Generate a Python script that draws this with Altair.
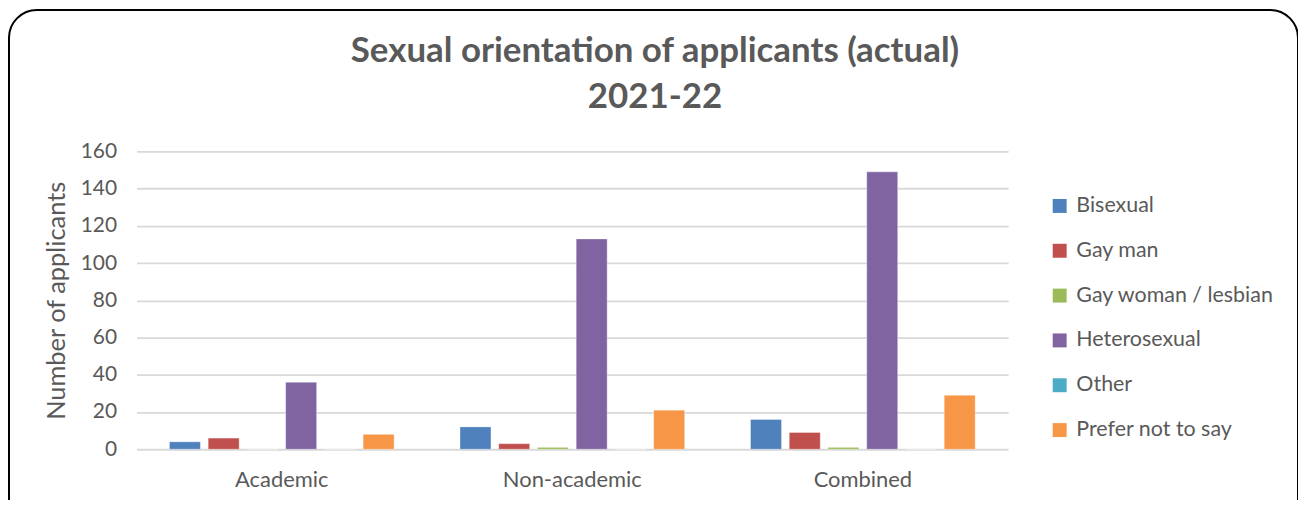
import altair as alt
import pandas as pd

categories = ["Academic", "Non-academic", "Combined"]
orientations = ["Bisexual", "Gay man", "Gay woman / lesbian", "Heterosexual", "Other", "Prefer not to say"]
academic = [4, 6, 0, 36, 0, 8]
non_academic = [12, 3, 1, 113, 0, 21]
combined = [16, 9, 1, 149, 0, 29]
colors = ["#4F81BD", "#C0504D", "#9BBB59", "#8064A2", "#4BACC6", "#F79646"]

rows = []
for cat, vals in zip(categories, [academic, non_academic, combined]):
    for o, v in zip(orientations, vals):
        rows.append({"Category": cat, "Orientation": o, "Count": v})
df = pd.DataFrame(rows)

FONT = "Lato"
GREY = "#595959"

bars = alt.Chart(df).mark_bar(stroke="white", strokeWidth=0.6, strokeOpacity=0.6).encode(
    x=alt.X("Category:N", sort=categories, title=None,
            scale=alt.Scale(paddingInner=0, paddingOuter=0),
            axis=alt.Axis(labelAngle=0, ticks=False, domain=False, labelPadding=20,
                          labelFontSize=22, labelColor=GREY, labelFont=FONT)),
    xOffset=alt.XOffset("Orientation:N", sort=orientations,
                        scale=alt.Scale(paddingInner=0.2, paddingOuter=0.85)),
    y=alt.Y("Count:Q", title="Number of applicants",
            scale=alt.Scale(domain=[0, 160], nice=False),
            axis=alt.Axis(values=list(range(0, 161, 20)), ticks=False, domain=False,
                          gridColor="#D9D9D9", gridWidth=1.8, labelPadding=20,
                          labelFontSize=21, labelColor=GREY, labelFont=FONT,
                          titleFontSize=25.5, titleColor=GREY, titleFont=FONT,
                          titleFontWeight="normal", titlePadding=11)),
    color=alt.Color("Orientation:N", sort=orientations,
                    scale=alt.Scale(domain=orientations, range=colors),
                    legend=alt.Legend(title=None, orient="none", legendX=916, legendY=44,
                                      symbolType="square", symbolSize=196, symbolStrokeWidth=0,
                                      labelFontSize=21.5, labelColor=GREY, labelFont=FONT,
                                      labelLimit=400, rowPadding=22, labelOffset=6)),
)

border = alt.Chart(pd.DataFrame({"a": [0]})).mark_rect(
    fill=None, stroke="black", strokeWidth=2, cornerRadius=28, clip=False
).encode(x=alt.value(-128), x2=alt.value(1166), y=alt.value(-142), y2=alt.value(380))

chart = alt.layer(border, bars).properties(
    width=875, height=299,
    autosize=alt.AutoSizeParams(type="none"),
    padding={"left": 129, "top": 143, "right": 291, "bottom": 50},
    title=alt.TitleParams(
        text=["Sexual orientation of applicants (actual)", "2021-22"],
        fontSize=35, font=FONT, fontWeight="bold", color=GREY,
        anchor="middle", dx=83, offset=-106, lineHeight=46,
    ),
).configure_view(stroke=None)

chart.save("out.html", embed_options={"renderer": "svg", "actions": False})
